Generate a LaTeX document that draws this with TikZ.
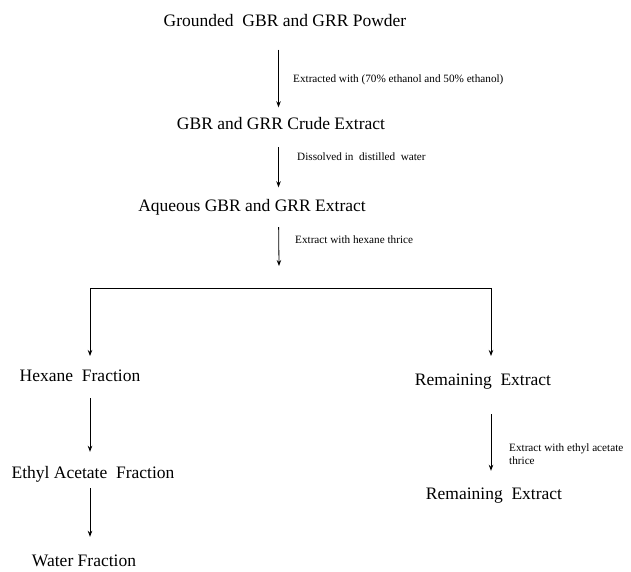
\documentclass[tikz,border=0pt]{standalone}
\usepackage{fontspec}
\setmainfont{Liberation Serif}
\usetikzlibrary{arrows.meta}
\tikzset{
  stage/.style={inner sep=0pt, font=\fontsize{17.5}{20}\selectfont, text height=12pt, text depth=3pt},
  note/.style={inner sep=0pt, anchor=west, font=\fontsize{11.2}{13}\selectfont, align=left},
  arr/.style={line width=0.8pt, -{Stealth[length=6pt,width=4.5pt]}},
  link/.style={line width=0.8pt}
}
\begin{document}
\begin{tikzpicture}[x=1pt,y=-1pt]
\useasboundingbox (0,0) rectangle (631,572);
% stages
\node[stage] (powder) at (285,22) {Grounded\ \ GBR and GRR Powder};
\node[stage] (crude) at (281,125) {GBR and GRR Crude Extract};
\node[stage] (aqueous) at (252,207) {Aqueous GBR and GRR Extract};
\node[stage] (hex) at (80,377) {Hexane\ \ Fraction};
\node[stage] (rem1) at (483,381) {Remaining\ \ Extract};
\node[stage] (ethyl) at (93,474) {Ethyl Acetate\ \ Fraction};
\node[stage] (water) at (84,562) {Water Fraction};
\node[stage] (rem2) at (494,495) {Remaining\ \ Extract};
% notes
\node[note] (n1) at (293,80) {Extracted with (70\% ethanol and 50\% ethanol)};
\node[note] (n2) at (297,157) {Dissolved in\ \ distilled\ \ water};
\node[note] (n3) at (295,240) {Extract with hexane thrice};
\node[note] (n4) at (509,454) {Extract with ethyl acetate\\thrice};
% guide coordinates
\coordinate (cx) at (278.5,0);
\coordinate (lx) at (90,0);
\coordinate (rx) at (491,0);
\coordinate (split) at (279,266);
\coordinate (bar) at (279,288);
\coordinate (hexin) at (90,356);
\coordinate (remin) at (491,356);
% connectors
\draw[arr, shorten <=20pt, shorten >=10pt] (powder.south -| cx) -- (crude.north -| cx);
\draw[arr, shorten <=14.5pt, shorten >=12pt] (crude.south -| cx) -- (aqueous.north -| cx);
\draw[arr, shorten <=12.5pt] (aqueous.south -| cx) -- (split);
\draw[link] (bar) -- (bar -| hexin);
\draw[link] (bar) -- (bar -| remin);
\draw[arr] (bar -| hexin) -- (hexin);
\draw[arr] (bar -| remin) -- (remin);
\draw[arr, shorten <=13.5pt, shorten >=14.5pt] (hex.south -| lx) -- (ethyl.north -| lx);
\draw[arr, shorten <=6.5pt, shorten >=17.5pt] (ethyl.south -| lx) -- (water.north -| lx);
\draw[arr, shorten <=25.5pt, shorten >=16.5pt] (rem1.south -| rx) -- (rem2.north -| rx);
\end{tikzpicture}
\end{document}
